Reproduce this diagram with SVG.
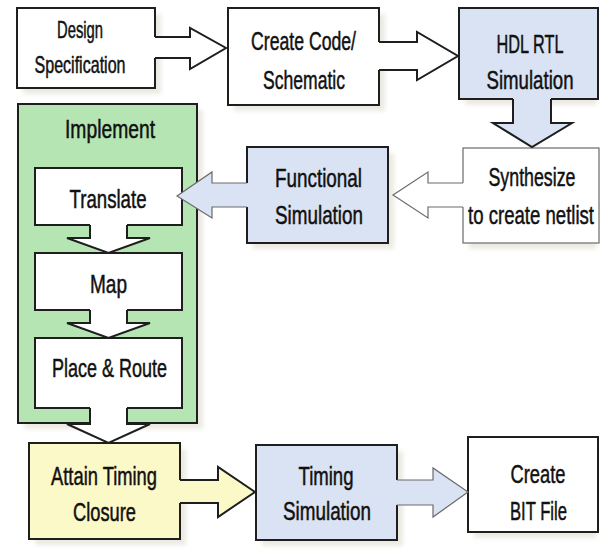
<svg xmlns="http://www.w3.org/2000/svg" width="601" height="553" viewBox="0 0 601 553">
  <defs>
    <filter id="soft" x="-10%" y="-10%" width="130%" height="130%">
      <feGaussianBlur stdDeviation="2"/>
    </filter>
    <style>
      .shadow { fill: #ebeae2; filter: url(#soft); }
      .box { stroke: #1e1e1e; stroke-width: 2; }
      .thin { stroke: #6a6a6a; stroke-width: 1.2; }
      .white { fill: #ffffff; }
      .blue { fill: #dae3f3; }
      .green { fill: #b5e5b3; }
      .yellow { fill: #fcf9c8; }
      .fillonly { stroke: none; }
      .edge { fill: none; stroke: #1e1e1e; stroke-width: 2; stroke-linejoin: miter; }
      .edge-grey { fill: none; stroke: #6a6a6a; stroke-width: 1.2; stroke-linejoin: miter; }
      text { font-family: "Liberation Sans", Arial, sans-serif; font-size: 26px; fill: #111; stroke: #111; stroke-width: 0.5; text-anchor: middle; }
      .small { font-size: 23px; }
    </style>
  </defs>

  <!-- soft drop shadows behind the blocks -->
  <g id="shadows">
    <rect class="shadow" x="23" y="14" width="138" height="80"/>
    <rect class="shadow" x="234" y="14" width="151" height="97"/>
    <rect class="shadow" x="465" y="14" width="132" height="91"/>
    <rect class="shadow" x="469" y="154" width="128" height="95"/>
    <rect class="shadow" x="253" y="153" width="141" height="96"/>
    <rect class="shadow" x="24" y="110" width="179" height="319"/>
    <rect class="shadow" x="35" y="449" width="151" height="96"/>
    <rect class="shadow" x="262" y="451" width="141" height="95"/>
    <rect class="shadow" x="474" y="443" width="123" height="95"/>
  </g>

  <!-- blocks; labels are set in a condensed face by scaling x to 0.7 -->
  <g id="design-spec">
    <rect class="box white" x="17" y="8" width="138" height="80"/>
    <text class="small" transform="translate(80,38) scale(0.7,1)" textLength="65.7" lengthAdjust="spacingAndGlyphs">Design</text>
    <text class="small" transform="translate(80,73) scale(0.7,1)" textLength="130" lengthAdjust="spacingAndGlyphs">Specification</text>
  </g>

  <g id="create-code">
    <rect class="box white" x="228" y="8" width="151" height="97"/>
    <text transform="translate(303.5,50) scale(0.7,1)" textLength="150" lengthAdjust="spacingAndGlyphs">Create Code/</text>
    <text transform="translate(304,89) scale(0.7,1)" textLength="117" lengthAdjust="spacingAndGlyphs">Schematic</text>
  </g>

  <g id="hdl-rtl">
    <rect class="box blue" x="459" y="8" width="139" height="91"/>
    <text transform="translate(530,53) scale(0.7,1)" textLength="95.7" lengthAdjust="spacingAndGlyphs">HDL RTL</text>
    <text transform="translate(530,89) scale(0.7,1)" textLength="124.3" lengthAdjust="spacingAndGlyphs">Simulation</text>
  </g>

  <g id="synthesize">
    <rect class="thin white" x="463" y="148" width="136" height="95"/>
    <text transform="translate(532,186) scale(0.7,1)" textLength="124.3" lengthAdjust="spacingAndGlyphs">Synthesize</text>
    <text transform="translate(531,224) scale(0.7,1)" textLength="180" lengthAdjust="spacingAndGlyphs">to create netlist</text>
  </g>

  <g id="functional-sim">
    <rect class="box blue" x="247" y="147" width="141" height="96"/>
    <text transform="translate(318.5,187) scale(0.7,1)" textLength="124.3" lengthAdjust="spacingAndGlyphs">Functional</text>
    <text transform="translate(319,224) scale(0.7,1)" textLength="125.7" lengthAdjust="spacingAndGlyphs">Simulation</text>
  </g>

  <g id="implement">
    <rect class="box green" x="18" y="104" width="179" height="319"/>
    <text transform="translate(110,138) scale(0.7,1)" textLength="128.6" lengthAdjust="spacingAndGlyphs">Implement</text>
  </g>

  <g id="translate">
    <rect class="box white" x="35" y="168" width="147" height="57"/>
    <text transform="translate(108,208) scale(0.7,1)" textLength="110" lengthAdjust="spacingAndGlyphs">Translate</text>
  </g>

  <g id="map">
    <rect class="box white" x="35" y="253" width="147" height="57"/>
    <text transform="translate(108.5,293) scale(0.7,1)" textLength="52.9" lengthAdjust="spacingAndGlyphs">Map</text>
  </g>

  <g id="place-route">
    <rect class="box white" x="35" y="338" width="147" height="70"/>
    <text transform="translate(109.5,377) scale(0.7,1)" textLength="164.3" lengthAdjust="spacingAndGlyphs">Place &amp; Route</text>
  </g>

  <g id="timing-closure">
    <rect class="box yellow" x="29" y="443" width="151" height="96"/>
    <text transform="translate(104,485) scale(0.7,1)" textLength="151.4" lengthAdjust="spacingAndGlyphs">Attain Timing</text>
    <text transform="translate(104.5,521) scale(0.7,1)" textLength="90" lengthAdjust="spacingAndGlyphs">Closure</text>
  </g>

  <g id="timing-sim">
    <rect class="box blue" x="256" y="445" width="141" height="95"/>
    <text transform="translate(326,485) scale(0.7,1)" textLength="78.6" lengthAdjust="spacingAndGlyphs">Timing</text>
    <text transform="translate(327,520) scale(0.7,1)" textLength="125.7" lengthAdjust="spacingAndGlyphs">Simulation</text>
  </g>

  <g id="bit-file">
    <rect class="box white" x="468" y="437" width="130" height="95"/>
    <text transform="translate(538,483) scale(0.7,1)" textLength="78.6" lengthAdjust="spacingAndGlyphs">Create</text>
    <text transform="translate(538.5,520) scale(0.7,1)" textLength="81.4" lengthAdjust="spacingAndGlyphs">BIT File</text>
  </g>

  <!-- block arrows: a fill that covers the source border, then an open outline -->
  <g id="connectors">
    <!-- Design Specification -> Create Code -->
    <polygon class="white fillonly" points="153,37 190,37 190,28 226,48 190,69 190,58 153,58"/>
    <polyline class="edge" points="155,37 190,37 190,28 226,48 190,69 190,58 155,58"/>

    <!-- Create Code -> HDL RTL Simulation -->
    <polygon class="white fillonly" points="377,42 417,42 417,32 458,56 417,80 417,70 377,70"/>
    <polyline class="edge" points="379,42 417,42 417,32 458,56 417,80 417,70 379,70"/>

    <!-- HDL RTL Simulation -> Synthesize -->
    <polygon class="blue fillonly" points="513,97 513,123 493,123 532,147 572,123 551,123 551,97"/>
    <polyline class="edge" points="513,99 513,123 493,123 532,147 572,123 551,123 551,99"/>

    <!-- Synthesize -> Functional Simulation -->
    <polygon class="white fillonly" points="464,183 428,183 428,172 393,195 428,218 428,207 464,207"/>
    <polyline class="edge-grey" points="463,183 428,183 428,172 393,195 428,218 428,207 463,207"/>

    <!-- Functional Simulation -> Translate -->
    <polygon class="blue fillonly" points="249,183 212,183 212,172 177,196 212,218 212,207 249,207"/>
    <polyline class="edge-grey" points="247,183 212,183 212,172 177,196 212,218 212,207 247,207"/>

    <!-- Translate -> Map -->
    <polygon class="white fillonly" points="90,223 90,238 67,238 108.5,253 150,238 127,238 127,223"/>
    <polyline class="edge" points="90,225 90,238 67,238 108.5,253 150,238 127,238 127,225"/>

    <!-- Map -> Place & Route -->
    <polygon class="white fillonly" points="90,308 90,323 67,323 108.5,338 150,323 127,323 127,308"/>
    <polyline class="edge" points="90,310 90,323 67,323 108.5,338 150,323 127,323 127,310"/>

    <!-- Place & Route -> Attain Timing Closure -->
    <polygon class="white fillonly" points="90,406 90,424 67,424 108.5,443 150,424 127,424 127,406"/>
    <polyline class="edge" points="90,408 90,424 67,424 108.5,443 150,424 127,424 127,408"/>

    <!-- Attain Timing Closure -> Timing Simulation -->
    <polygon class="yellow fillonly" points="178,480 218,480 218,467 255,492 218,517 218,503 178,503"/>
    <polyline class="edge" points="180,480 218,480 218,467 255,492 218,517 218,503 180,503"/>

    <!-- Timing Simulation -> Create BIT File -->
    <polygon class="blue fillonly" points="395,480 433,480 433,468 468,492 433,517 433,505 395,505"/>
    <polyline class="edge-grey" points="397,480 433,480 433,468 468,492 433,517 433,505 397,505"/>
  </g>
</svg>
